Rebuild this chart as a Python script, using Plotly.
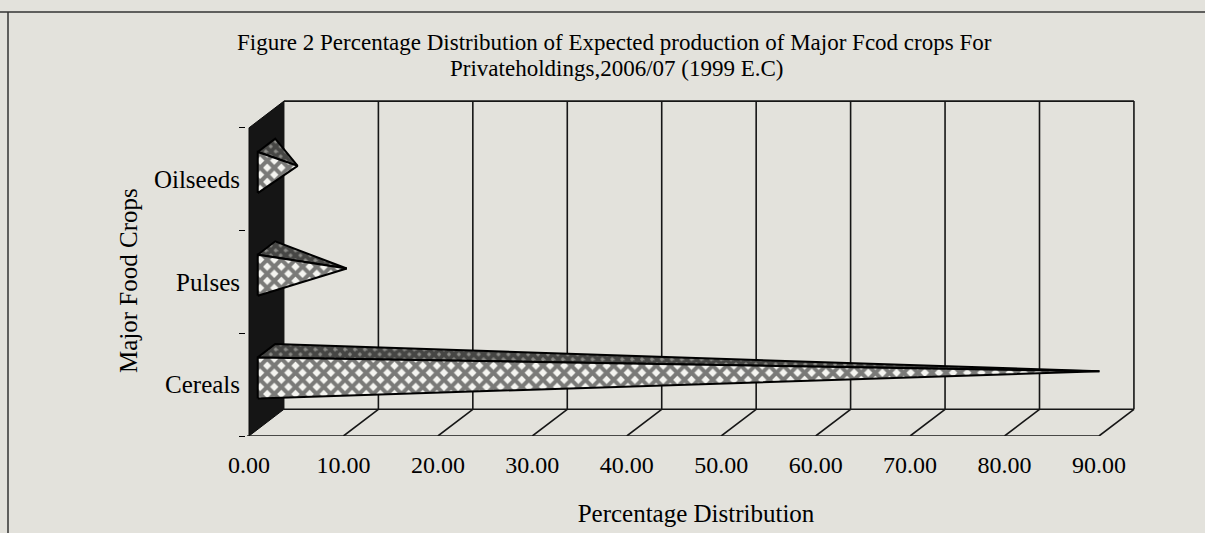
import plotly.graph_objects as go

# ---- data ----
categories = ["Cereals", "Pulses", "Oilseeds"]
values = [88.2, 8.5, 3.3]
tick_values = [0, 10, 20, 30, 40, 50, 60, 70, 80, 90]
tick_labels = ["0.00", "10.00", "20.00", "30.00", "40.00", "50.00", "60.00", "70.00", "80.00", "90.00"]
title_line1 = "Figure 2 Percentage Distribution of Expected production of Major Fcod crops For"
title_line2 = "Privateholdings,2006/07 (1999 E.C)"
x_title = "Percentage Distribution"
y_title = "Major Food Crops"

# ---- styling / 3-D projection parameters ----
FONT = "Liberation Serif"
BG = "#e3e2dc"
DX = 3.7      # depth offset in x data units
DY = 0.26     # depth offset in y data units
XMAX = tick_values[-1]
NCAT = len(categories)
HALF = 0.2    # half height of a pyramid base
D0, D1 = 0.25, 0.75  # depth extent of a pyramid base

W, H = 1205, 533
L_M, R_M, T_M, B_M = 246, 59, 97, 97
pw, ph = W - L_M - R_M, H - T_M - B_M
scale = 9.444  # px per x unit
x_left = -(249 - L_M) / scale
x_right = XMAX + (W - R_M - 1099) / scale

def px(p):
    return (p - L_M) / pw

def py(p):
    return (H - B_M - p) / ph

fig = go.Figure()

def proj(x, y, t):
    return x + t * DX, y + t * DY

# dark left wall
wx = [0, 0, DX, DX, 0]
wy = [0, NCAT, NCAT + DY, DY, 0]
fig.add_trace(go.Scatter(x=wx, y=wy, fill="toself", mode="lines",
                         fillcolor="#151515", line=dict(color="#0d0d0d", width=1),
                         hoverinfo="skip", showlegend=False))

# pyramids (front face + top face)
for i, (cat, v) in enumerate(zip(categories, values)):
    c = i + 0.5
    tip = proj(v, c, 0.5)
    fb = proj(0, c - HALF, D0)
    ft = proj(0, c + HALF, D0)
    bt = proj(0, c + HALF, D1)
    # top face (dark hatch)
    fig.add_trace(go.Scatter(
        x=[ft[0], bt[0], tip[0], ft[0]], y=[ft[1], bt[1], tip[1], ft[1]],
        fill="toself", mode="lines", line=dict(color="black", width=2),
        fillcolor="#444444",
        fillpattern=dict(shape="x", fgcolor="black", bgcolor="#8c8c88", size=7, solidity=0.8),
        name=cat, hoverinfo="skip", showlegend=False))
    # front face (cross hatch)
    fig.add_trace(go.Scatter(
        x=[fb[0], ft[0], tip[0], fb[0]], y=[fb[1], ft[1], tip[1], fb[1]],
        fill="toself", mode="lines", line=dict(color="black", width=2),
        fillcolor="#ffffff",
        fillpattern=dict(shape="x", fgcolor="black", bgcolor="#f4f4f0", size=10, solidity=0.65),
        name=cat, hovertemplate=f"{cat}: {v:.2f}%<extra></extra>", showlegend=False))

# ---- frame shapes ----
shapes = []
LW = dict(color="#161616", width=1.6)
shapes.append(dict(type="line", x0=DX, y0=NCAT + DY, x1=XMAX + DX, y1=NCAT + DY, line=LW, layer="below"))
for t in tick_values[1:]:
    shapes.append(dict(type="line", x0=t + DX, y0=DY, x1=t + DX, y1=NCAT + DY, line=LW, layer="below"))
shapes.append(dict(type="line", x0=DX, y0=DY, x1=XMAX + DX, y1=DY, line=LW, layer="below"))
shapes.append(dict(type="line", x0=-0.2, y0=0, x1=XMAX, y1=0, line=LW, layer="below"))
for t in tick_values[1:]:
    shapes.append(dict(type="line", x0=t, y0=0, x1=t + DX, y1=DY, line=LW, layer="below"))

# outer border of the scanned figure (paper coords)
shapes.append(dict(type="line", xref="paper", yref="paper", x0=px(0), y0=py(12), x1=px(W), y1=py(12),
                   line=dict(color="#333", width=1.5)))
shapes.append(dict(type="line", xref="paper", yref="paper", x0=px(8), y0=py(12), x1=px(8), y1=py(H),
                   line=dict(color="#333", width=1.5)))

annotations = [
    dict(text=title_line1, xref="paper", yref="paper", x=px(614), y=py(43),
         xanchor="center", yanchor="middle", showarrow=False,
         font=dict(family=FONT, size=23, color="black")),
    dict(text=title_line2, xref="paper", yref="paper", x=px(616), y=py(69),
         xanchor="center", yanchor="middle", showarrow=False,
         font=dict(family=FONT, size=23, color="black")),
    dict(text=y_title, xref="paper", yref="paper", x=px(128), y=py(280),
         xanchor="center", yanchor="middle", showarrow=False, textangle=-90,
         font=dict(family=FONT, size=25, color="black")),
]

fig.update_layout(
    width=W, height=H,
    paper_bgcolor=BG, plot_bgcolor=BG,
    margin=dict(l=L_M, r=R_M, t=T_M, b=B_M, autoexpand=False),
    font=dict(family=FONT, color="black", size=24),
    showlegend=False,
    shapes=shapes,
    annotations=annotations,
    xaxis=dict(range=[x_left, x_right], tickvals=tick_values, ticktext=tick_labels,
               showgrid=False, zeroline=False, showline=False, ticks="",
               ticklabelstandoff=12,
               tickfont=dict(family=FONT, size=24),
               title=dict(text=x_title, font=dict(family=FONT, size=25), standoff=27)),
    yaxis=dict(range=[0, 3.3], tickvals=[i + 0.5 for i in range(NCAT)], ticktext=categories,
               showgrid=False, zeroline=False, showline=False, ticks="",
               ticklabelstandoff=5,
               minor=dict(tickvals=list(range(NCAT + 1)), ticks="outside", ticklen=6,
                          tickcolor="black", tickwidth=1.3, showgrid=False),
               tickfont=dict(family=FONT, size=25)),
)

fig.write_html("out.html", config={"displayModeBar": False},
               post_script="document.body.style.margin='0px';document.body.style.overflow='hidden';")
